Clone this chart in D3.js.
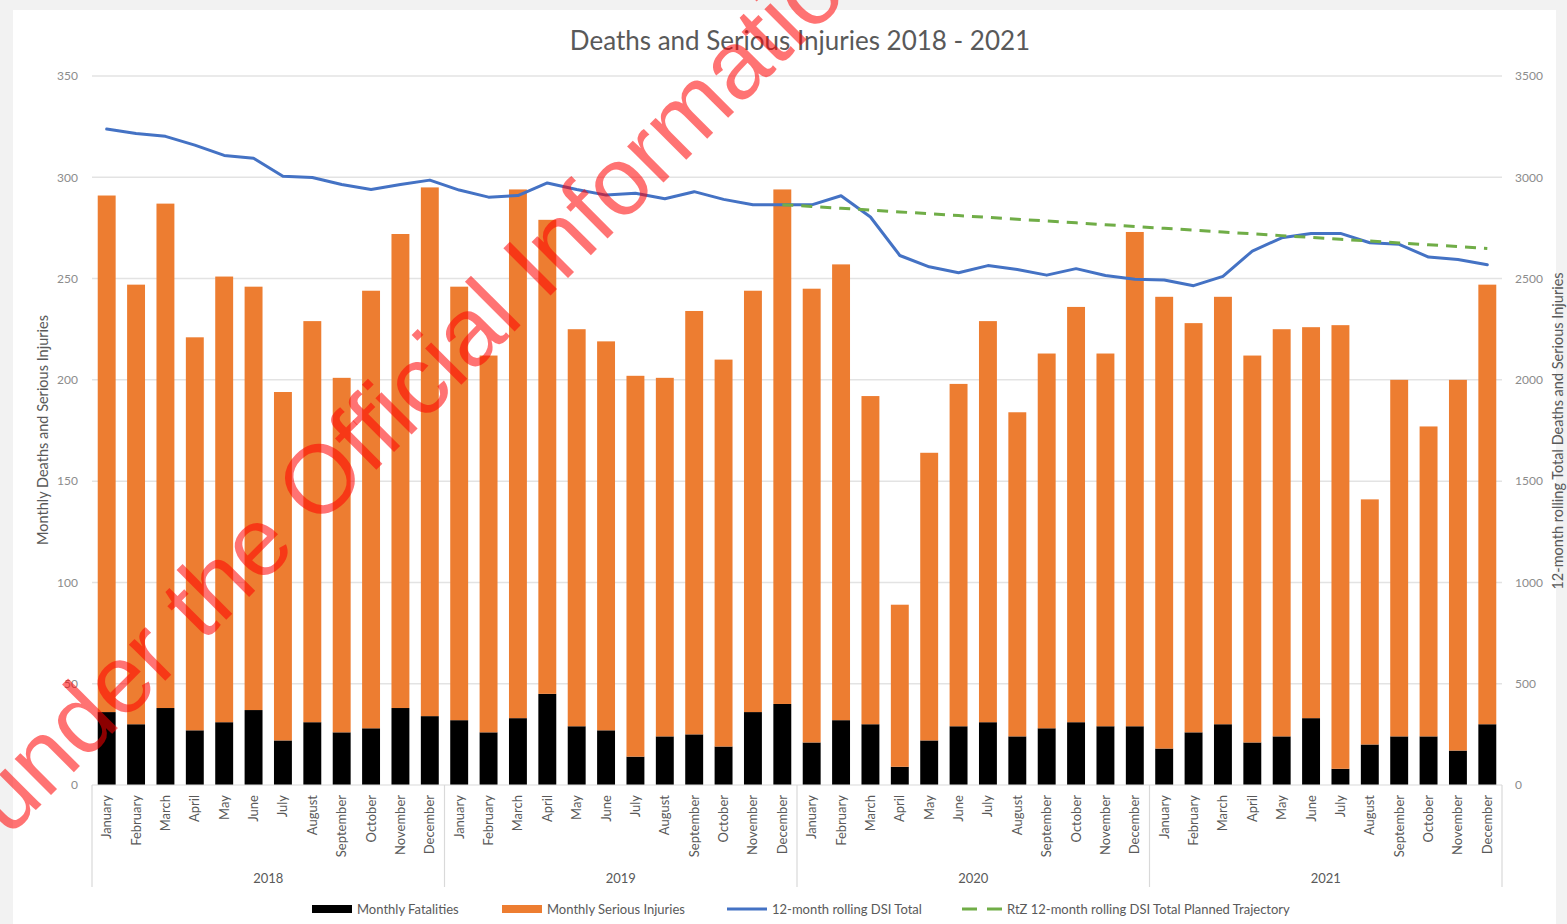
<!DOCTYPE html>
<html>
<head>
<meta charset="utf-8">
<script src="https://cdn.jsdelivr.net/npm/d3@7"></script>
<style>
  body { margin: 0; background: #f2f2f2; }
  svg { display: block; }
</style>
</head>
<body>
<div id="chart"></div>
<script>
// ---- data ----
var years = ["2018", "2019", "2020", "2021"];
var months = ["January","February","March","April","May","June","July","August","September","October","November","December"];

var fatalities = [
  36, 30, 38, 27, 31, 37, 22, 31, 26, 28, 38, 34,
  32, 26, 33, 45, 29, 27, 14, 24, 25, 19, 36, 40,
  21, 32, 30, 9, 22, 29, 31, 24, 28, 31, 29, 29,
  18, 26, 30, 21, 24, 33, 8, 20, 24, 24, 17, 30
];
var seriousInjuries = [
  255, 217, 249, 194, 220, 209, 172, 198, 175, 216, 234, 261,
  214, 186, 261, 234, 196, 192, 188, 177, 209, 191, 208, 254,
  224, 225, 162, 80, 142, 169, 198, 160, 185, 205, 184, 244,
  223, 202, 211, 191, 201, 193, 219, 121, 176, 153, 183, 217
];
var rollingTotal = [
  3238, 3216, 3202, 3159, 3108, 3094, 3005, 2999, 2964, 2940, 2964, 2986,
  2937, 2902, 2910, 2972, 2940, 2912, 2921, 2894, 2929, 2891, 2864, 2864,
  2864, 2909, 2804, 2614, 2558, 2529, 2564, 2545, 2517, 2549, 2515, 2497,
  2493, 2465, 2511, 2636, 2701, 2723, 2723, 2677, 2669, 2606, 2594, 2568
];
// planned trajectory starts at December 2019
var trajectory = [
  null, null, null, null, null, null, null, null, null, null, null, null,
  null, null, null, null, null, null, null, null, null, null, null, 2865,
  2856, 2847, 2838, 2829, 2820, 2811, 2802, 2793, 2784, 2775, 2766, 2757,
  2748, 2739, 2730, 2721, 2712, 2703, 2694, 2685, 2676, 2667, 2658, 2649
];
var leftTicks = [0, 50, 100, 150, 200, 250, 300, 350];
var rightTicks = [0, 500, 1000, 1500, 2000, 2500, 3000, 3500];
var legendLabels = ["Monthly Fatalities", "Monthly Serious Injuries", "12-month rolling DSI Total", "RtZ 12-month rolling DSI Total Planned Trajectory"];

var W = 1567, H = 924;
var plotLeft = 92, plotRight = 1502, plotTop = 76, plotBottom = 785;
var font = "Lato, 'Open Sans', sans-serif";

var rows = [];
years.forEach(function(yr, yi) {
  months.forEach(function(m, mi) {
    var i = yi * 12 + mi;
    rows.push({i: i, year: yr, month: m, fatal: fatalities[i], serious: seriousInjuries[i],
               rolling: rollingTotal[i], traj: trajectory[i]});
  });
});

var svg = d3.select("#chart").append("svg")
    .attr("width", W).attr("height", H);

svg.append("rect").attr("x", 13).attr("y", 10).attr("width", 1543).attr("height", H - 10)
    .attr("fill", "#ffffff");

var x = d3.scaleBand().domain(rows.map(function(d) { return d.i; }))
    .range([plotLeft, plotRight]).paddingInner(0.39).paddingOuter(0.195);
var y = d3.scaleLinear().domain([0, 350]).range([plotBottom, plotTop]);
var yR = d3.scaleLinear().domain([0, 3500]).range([plotBottom, plotTop]);

// gridlines
svg.append("g").selectAll("line").data(leftTicks.slice(1)).enter().append("line")
    .attr("x1", plotLeft).attr("x2", plotRight)
    .attr("y1", function(d) { return y(d); }).attr("y2", function(d) { return y(d); })
    .attr("stroke", "#e3e3e3").attr("stroke-width", 1.5);

// left axis
var gl = svg.append("g").attr("transform", "translate(" + (plotLeft - 12) + ",0)")
    .call(d3.axisLeft(y).tickValues(leftTicks).tickSize(0).tickPadding(2));
gl.select(".domain").remove();
gl.selectAll("text").attr("font-family", font).attr("font-size", "12px").attr("fill", "#8c8c8c");

// right axis
var gr = svg.append("g").attr("transform", "translate(" + (plotRight + 12) + ",0)")
    .call(d3.axisRight(yR).tickValues(rightTicks).tickFormat(d3.format("d")).tickSize(0).tickPadding(1));
gr.select(".domain").remove();
gr.selectAll("text").attr("font-family", font).attr("font-size", "12px").attr("fill", "#8c8c8c");

// stacked bars
var bars = svg.append("g");
bars.selectAll("rect.fatal").data(rows).enter().append("rect")
    .attr("class", "fatal")
    .attr("x", function(d) { return x(d.i); })
    .attr("width", x.bandwidth())
    .attr("y", function(d) { return y(d.fatal); })
    .attr("height", function(d) { return y(0) - y(d.fatal); })
    .attr("fill", "#000000");
bars.selectAll("rect.serious").data(rows).enter().append("rect")
    .attr("class", "serious")
    .attr("x", function(d) { return x(d.i); })
    .attr("width", x.bandwidth())
    .attr("y", function(d) { return y(d.fatal + d.serious); })
    .attr("height", function(d) { return y(d.fatal) - y(d.fatal + d.serious); })
    .attr("fill", "#ed7d31");

// base line
svg.append("line").attr("x1", plotLeft).attr("x2", plotRight).attr("y1", plotBottom).attr("y2", plotBottom)
    .attr("stroke", "#d9d9d9").attr("stroke-width", 1.2);

// category axis: months, then years with separators
var cx = function(d) { return x(d.i) + x.bandwidth() / 2; };
svg.append("g").selectAll("text").data(rows).enter().append("text")
    .attr("transform", function(d) { return "translate(" + (cx(d) + 4.5) + ",795) rotate(-90)"; })
    .attr("text-anchor", "end")
    .attr("font-family", font).attr("font-size", "13px").attr("fill", "#595959")
    .text(function(d) { return d.month; });

var sepX = [plotLeft].concat(years.slice(1).map(function(yv, yi) {
  return (cx(rows[(yi + 1) * 12 - 1]) + cx(rows[(yi + 1) * 12])) / 2;
})).concat([plotRight]);
svg.append("g").selectAll("line").data(sepX).enter().append("line")
    .attr("x1", function(d) { return d; }).attr("x2", function(d) { return d; })
    .attr("y1", plotBottom).attr("y2", 887)
    .attr("stroke", "#d9d9d9").attr("stroke-width", 1.2);
svg.append("g").selectAll("text").data(years).enter().append("text")
    .attr("x", function(d, i) { return (sepX[i] + sepX[i + 1]) / 2; })
    .attr("y", 883)
    .attr("text-anchor", "middle")
    .attr("font-family", font).attr("font-size", "13px").attr("fill", "#595959")
    .text(function(d) { return d; });

// lines on the right axis
var rollLine = d3.line()
    .x(cx).y(function(d) { return yR(d.rolling); });
svg.append("path").datum(rows).attr("d", rollLine)
    .attr("fill", "none").attr("stroke", "#4472c4").attr("stroke-width", 3)
    .attr("stroke-linejoin", "round").attr("stroke-linecap", "round");

var trajLine = d3.line()
    .defined(function(d) { return d.traj !== null; })
    .x(cx).y(function(d) { return yR(d.traj); });
svg.append("path").datum(rows).attr("d", trajLine)
    .attr("fill", "none").attr("stroke", "#70ad47").attr("stroke-width", 3)
    .attr("stroke-dasharray", "11,8");

// title
svg.append("text").attr("x", 800).attr("y", 50).attr("text-anchor", "middle")
    .attr("font-family", font).attr("font-size", "26px").attr("fill", "#595959")
    .text("Deaths and Serious Injuries 2018 - 2021");

// axis titles
svg.append("text").attr("transform", "translate(48,430) rotate(-90)")
    .attr("text-anchor", "middle")
    .attr("font-family", font).attr("font-size", "14.5px").attr("fill", "#595959")
    .text("Monthly Deaths and Serious Injuries");
svg.append("text").attr("transform", "translate(1563,431) rotate(-90)")
    .attr("text-anchor", "middle")
    .attr("font-family", font).attr("font-size", "14.5px").attr("fill", "#595959")
    .text("12-month rolling Total Deaths and Serious Injuries");

// legend
var legendX = [312, 502, 727, 962];
var lg = svg.append("g").selectAll("g").data(legendLabels).enter().append("g")
    .attr("transform", function(d, i) { return "translate(" + legendX[i] + ",909)"; });
lg.each(function(d, i) {
  var g = d3.select(this);
  if (i === 0 || i === 1) {
    g.append("rect").attr("x", 0).attr("y", -4).attr("width", 40).attr("height", 8)
      .attr("fill", i === 0 ? "#000000" : "#ed7d31");
  } else {
    g.append("line").attr("x1", 0).attr("x2", 40).attr("y1", 0).attr("y2", 0)
      .attr("stroke", i === 2 ? "#4472c4" : "#70ad47").attr("stroke-width", 3)
      .attr("stroke-dasharray", i === 3 ? "15,10" : null);
  }
  g.append("text").attr("x", 45).attr("y", 4.5)
    .attr("font-family", font).attr("font-size", "13px").attr("fill", "#595959")
    .text(d);
});

// watermark
var wmFont = "'Liberation Sans', Arial, sans-serif";
var wm = svg.append("text")
    .attr("transform", "translate(8,838) rotate(-45)")
    .attr("font-family", wmFont)
    .attr("font-size", "97px").attr("fill", "#ff0000").attr("fill-opacity", 0.55)
    .text("Released under the Official Information Act");
var probe = svg.append("text").attr("font-family", wmFont)
    .attr("font-size", "97px").style("white-space", "pre").text("Released ");
var off = probe.node().getComputedTextLength();
probe.remove();
wm.attr("x", -off);
</script>
</body>
</html>
